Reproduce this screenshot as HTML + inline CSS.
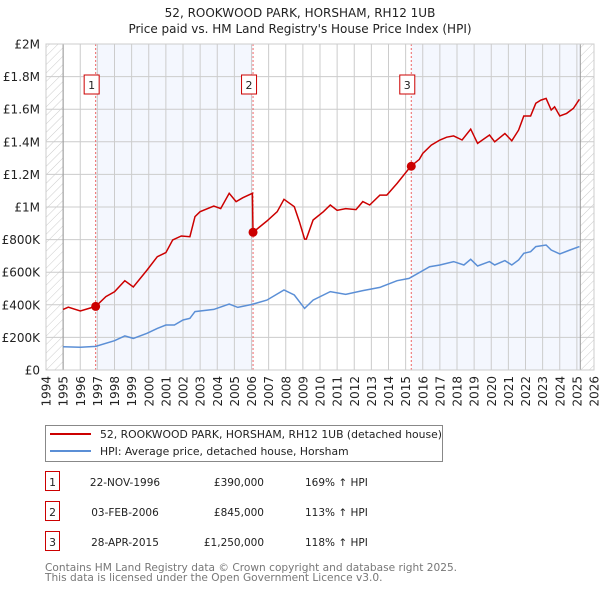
<!DOCTYPE html>
<html><head><meta charset="utf-8"><style>
body{margin:0;background:#fff;font-family:"DejaVu Sans","Liberation Sans",sans-serif;}
#wrap{position:relative;width:600px;height:590px;overflow:hidden}
svg{position:absolute;left:0;top:0;font-family:"DejaVu Sans","Liberation Sans",sans-serif}
</style></head><body><div id="wrap">
<svg id="c" width="600" height="590"></svg>
</div>
<script>
const hpiYears=[1995,1996,1996.9,1998,1998.6,1999.1,1999.9,2000.5,2001,2001.5,2002,2002.4,2002.7,2003.8,2004.7,2005.2,2006,2006.9,2007.9,2008.5,2009.1,2009.6,2010.6,2011.5,2012.5,2013.5,2014.5,2015.2,2016.4,2017,2017.8,2018.4,2018.8,2019.2,2019.9,2020.2,2020.8,2021.2,2021.6,2021.9,2022.3,2022.6,2023.2,2023.5,2024,2024.6,2025.15];
const hpiValues=[143,139,145,180,209,194,225,255,276,276,307,317,358,372,405,384,402,429,491,460,378,429,481,464,487,507,548,562,634,644,665,644,679,638,665,644,671,644,675,716,726,757,767,736,712,736,757];
const priceYears=[1995,1995.3,1996,1996.9,1997.5,1998,1998.6,1999.1,1999.9,2000.5,2001,2001.4,2001.9,2002.4,2002.7,2003,2003.8,2004.2,2004.7,2005.1,2005.5,2006.05,2006.09,2006.9,2007.5,2007.9,2008.5,2008.8,2009.1,2009.2,2009.6,2010.2,2010.6,2011,2011.5,2012.1,2012.5,2012.9,2013.5,2013.9,2014.5,2015.3,2015.8,2016,2016.5,2017,2017.4,2017.8,2018.3,2018.8,2019.2,2019.9,2020.2,2020.8,2021.2,2021.6,2021.9,2022.3,2022.6,2022.9,2023.2,2023.5,2023.7,2024,2024.4,2024.8,2025.15];
const priceValues=[372,385,362,390,450,480,548,509,613,695,720,798,822,818,941,971,1006,990,1084,1033,1057,1084,845,914,971,1047,1002,910,803,803,920,971,1012,980,990,984,1033,1012,1073,1073,1145,1250,1292,1329,1380,1411,1428,1436,1411,1478,1390,1442,1400,1451,1406,1472,1558,1558,1636,1656,1666,1595,1615,1558,1574,1605,1661];
const saleYears=[1996.9,2006.09,2015.33];
const saleValues=[390,845,1250];
const saleLabels=["1","2","3"];
const yTicks=[0,200,400,600,800,1000,1200,1400,1600,1800,2000];
const yTickLabels=["£0","£200K","£400K","£600K","£800K","£1M","£1.2M","£1.4M","£1.6M","£1.8M","£2M"];
const xTicks=[];for(let y=1994;y<=2026;y++)xTicks.push(y);

const L=46,R=594,T=44,B=370;
const X=y=>L+(y-1994)*(R-L)/32;
const Y=v=>B-v*(B-T)/2000;
const NS="http://www.w3.org/2000/svg";
const svg=document.getElementById('c');
function mk(tag,attrs,parent){const e=document.createElementNS(NS,tag);for(const k in attrs)e.setAttribute(k,attrs[k]);(parent||svg).appendChild(e);return e;}
svg.innerHTML=`<defs><pattern id="hatch" patternUnits="userSpaceOnUse" width="6" height="6" patternTransform="rotate(45)"><line x1="0" y1="0" x2="0" y2="6" stroke="#ccc" stroke-width="1"/></pattern></defs>`;
let e;
e=mk('text',{x:300,y:17,'text-anchor':'middle','font-size':12,fill:'#222'});e.textContent="52, ROOKWOOD PARK, HORSHAM, RH12 1UB";

e=mk('text',{x:300,y:33,'text-anchor':'middle','font-size':12,fill:'#222'});e.textContent="Price paid vs. HM Land Registry's House Price Index (HPI)";

e=mk('rect',{x:X(saleYears[0]),y:T,width:X(saleYears[1])-X(saleYears[0]),height:B-T,fill:'#f4f7fe'});

e=mk('rect',{x:X(saleYears[2]),y:T,width:X(2025.2)-X(saleYears[2]),height:B-T,fill:'#f4f7fe'});

e=mk('rect',{x:L,y:T,width:X(1995)-L,height:B-T,fill:'url(#hatch)'});

e=mk('rect',{x:X(2025.2),y:T,width:R-X(2025.2),height:B-T,fill:'url(#hatch)'});

yTicks.forEach((v,i)=>{
 e=mk('line',{x1:L,x2:R,y1:Y(v),y2:Y(v),stroke:'#ccc','stroke-width':1});
 
 e=mk('text',{x:40,y:Y(v)+4.5,'text-anchor':'end','font-size':12,fill:'#222'});e.textContent=yTickLabels[i];
 
});
xTicks.forEach(yr=>{
 e=mk('line',{x1:X(yr),x2:X(yr),y1:T,y2:B,stroke:'#ccc','stroke-width':1});
 
 e=mk('text',{x:0,y:0,'text-anchor':'end','font-size':12,fill:'#222',transform:`translate(${X(yr)+4.5},${B+6}) rotate(-90)`});e.textContent=yr;
 
});
e=mk('line',{x1:X(1995),x2:X(1995),y1:T,y2:B,stroke:'#999'});

e=mk('line',{x1:X(2025.2),x2:X(2025.2),y1:T,y2:B,stroke:'#999'});

saleYears.forEach((yr,i)=>{
 e=mk('line',{x1:X(yr),x2:X(yr),y1:T,y2:B,stroke:'#e66','stroke-dasharray':'2,2','stroke-width':1});
 
 e=mk('rect',{x:X(yr)-11.5,y:75,width:15,height:19,fill:'#fff',stroke:'#c00'});
 
 e=mk('text',{x:X(yr)-4,y:89,'text-anchor':'middle','font-size':11,fill:'#222'});e.textContent=saleLabels[i];
 
});
const path=(xs,vs)=>xs.map((x,i)=>(i?'L':'M')+X(x).toFixed(1)+','+Y(vs[i]).toFixed(1)).join('');
e=mk('path',{d:path(hpiYears,hpiValues),fill:'none',stroke:'#5b8fd6','stroke-width':1.5});

e=mk('path',{d:path(priceYears,priceValues),fill:'none',stroke:'#cc0000','stroke-width':1.5});

saleYears.forEach((yr,i)=>{
 e=mk('circle',{cx:X(yr),cy:Y(saleValues[i]),r:4.5,fill:'#cc0000'});
 
});
e=mk('rect',{x:L,y:T,width:R-L,height:B-T,fill:'none',stroke:'#ccc'});

e=mk('rect',{x:45.5,y:425.5,width:397,height:36,fill:'#fff',stroke:'#888'});

e=mk('line',{x1:50,x2:91,y1:434,y2:434,stroke:'#cc0000','stroke-width':2});

e=mk('text',{x:100,y:438,'font-size':10.8,fill:'#222'});e.textContent="52, ROOKWOOD PARK, HORSHAM, RH12 1UB (detached house)";

e=mk('line',{x1:50,x2:91,y1:451,y2:451,stroke:'#5b8fd6','stroke-width':2});

e=mk('text',{x:100,y:455,'font-size':10.8,fill:'#222'});e.textContent="HPI: Average price, detached house, Horsham";

const dates=["22-NOV-1996","03-FEB-2006","28-APR-2015"],prices=["£390,000","£845,000","£1,250,000"],pct=["169% ↑ HPI","113% ↑ HPI","118% ↑ HPI"];
[483,513,543].forEach((cy,i)=>{
 e=mk('rect',{x:45.5,y:cy-11.5,width:14,height:19,fill:'#fff',stroke:'#c00'});
 
 e=mk('text',{x:52.5,y:cy+3,'text-anchor':'middle','font-size':10.8,fill:'#222'});e.textContent=saleLabels[i];
 
 e=mk('text',{x:125,y:cy+3,'text-anchor':'middle','font-size':10.5,fill:'#222'});e.textContent=dates[i];
 
 e=mk('text',{x:264,y:cy+3,'text-anchor':'end','font-size':10.5,fill:'#222'});e.textContent=prices[i];
 
 e=mk('text',{x:305,y:cy+3,'font-size':10.5,fill:'#222'});e.textContent=pct[i];
 
});
e=mk('text',{x:45,y:571,'font-size':10.6,fill:'#777'});e.textContent="Contains HM Land Registry data © Crown copyright and database right 2025.";

e=mk('text',{x:45,y:581,'font-size':10.6,fill:'#777'});e.textContent="This data is licensed under the Open Government Licence v3.0.";

</script></body></html>
